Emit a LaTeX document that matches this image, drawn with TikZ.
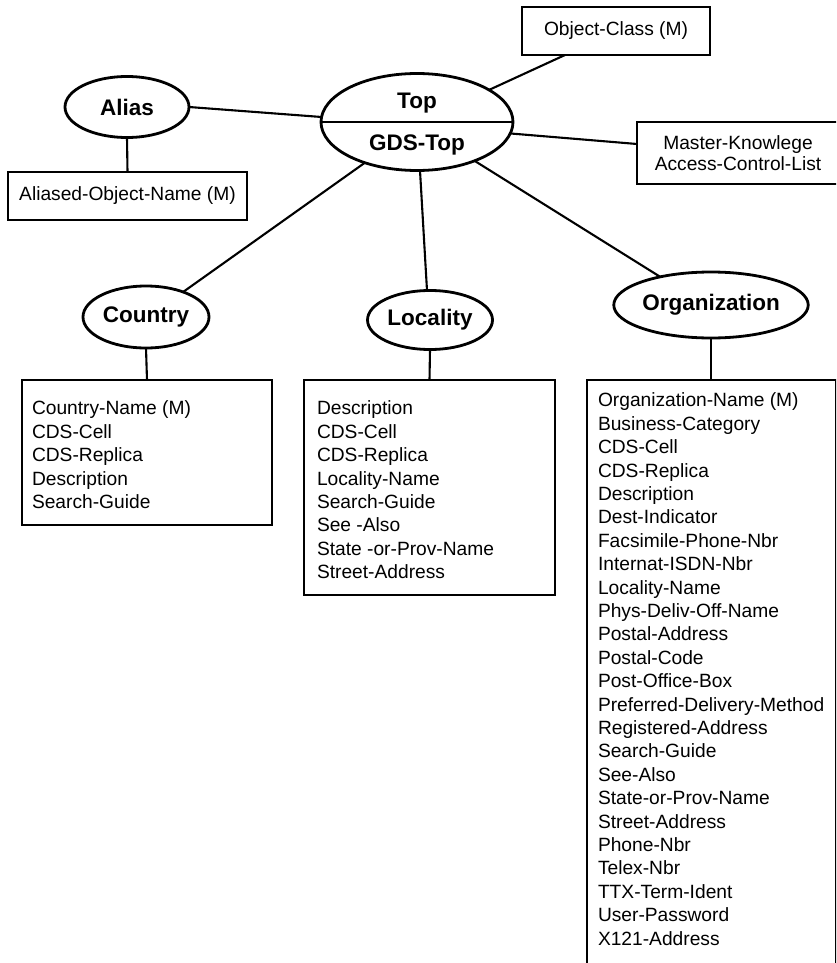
\documentclass[tikz,border=0pt]{standalone}
\usepackage{fontspec}
\setmainfont{Liberation Sans}
\usetikzlibrary{shapes.geometric}

\begin{document}
\begin{tikzpicture}[x=1pt,y=-1pt,
  every node/.style={inner sep=0pt, outer sep=0pt},
  cls/.style={ellipse, draw, line width=2.8pt,
    font=\fontsize{22.5}{26}\selectfont\bfseries},
  clslabel/.style={font=\fontsize{22.5}{26}\selectfont\bfseries},
  attrbox/.style={rectangle, draw, line width=2.8pt,
    font=\fontsize{19.2}{21}\selectfont, align=center},
  attrtext/.style={anchor=north west, align=left,
    font=\fontsize{19.2}{23.4}\selectfont},
  link/.style={line width=2.1pt},
]
\useasboundingbox (0,0) rectangle (836,963);

% --- central class Top / GDS-Top
\node[ellipse, draw, line width=2.8pt, minimum width=192pt, minimum height=97pt] (top) at (417,122) {};
\draw[line width=2.8pt] (top.west) -- (top.east);
\node[clslabel] (toplbl) at (417,103) {Top};
\node[clslabel] (gdslbl) at (417,145) {GDS-Top};

% --- attributes of Top
\node[attrbox, minimum width=188pt, minimum height=48pt] (objclass) at (616,31) {Object-Class (M)};
\begin{scope}
  \clip (0,0) rectangle (836,963);
  \node[attrbox, minimum width=202pt, minimum height=62pt] (master) at (738,153)
    {Master-Knowlege\\Access-Control-List};
  \node[attrbox, minimum width=249pt, minimum height=610pt] (orgbox) at (711.5,685) {};
\end{scope}

% --- Alias
\node[cls, minimum width=124pt, minimum height=61pt] (alias) at (127,107) {Alias};
\node[attrbox, minimum width=239pt, minimum height=48pt] (aliasbox) at (127.5,196) {Aliased-Object-Name (M)};

% --- subclasses
\node[cls, minimum width=126pt, minimum height=62pt] (country) at (146,317) {Country};
\node[cls, minimum width=125pt, minimum height=59pt] (locality) at (430,320) {Locality};
\node[cls, minimum width=164pt, minimum height=66pt] (org) at (711,305) {Organization};

\node[attrbox, minimum width=250pt, minimum height=145pt] (countrybox) at (147,452.5) {};
\node[attrbox, minimum width=251pt, minimum height=215pt] (localitybox) at (429.5,487.5) {};

% --- attribute lists
\node[attrtext] (countrytext) at (32,401) {Country-Name (M)\\CDS-Cell\\CDS-Replica\\Description\\Search-Guide};
\node[attrtext] (localitytext) at (317,401) {Description\\CDS-Cell\\CDS-Replica\\Locality-Name\\Search-Guide\\See -Also\\State -or-Prov-Name\\Street-Address};
\node[attrtext] (orgtext) at (598,393) {Organization-Name (M)\\Business-Category\\CDS-Cell\\CDS-Replica\\Description\\Dest-Indicator\\Facsimile-Phone-Nbr\\Internat-ISDN-Nbr\\Locality-Name\\Phys-Deliv-Off-Name\\Postal-Address\\Postal-Code\\Post-Office-Box\\Preferred-Delivery-Method\\Registered-Address\\Search-Guide\\See-Also\\State-or-Prov-Name\\Street-Address\\Phone-Nbr\\Telex-Nbr\\TTX-Term-Ident\\User-Password\\X121-Address};

% --- connectors
\draw[link] (top.24) -- ([xshift=-51pt]objclass.south);
\draw[link] (top.-7) -- ([yshift=9pt]master.west);
\draw[link] (alias.east) -- (top.177);
\draw[link] (alias.south) -- (aliasbox.north);
\draw[link] (top.218) -- (country.34);
\draw[link] ([xshift=3pt]top.south) -- ([xshift=-3pt]locality.north);
\draw[link] (top.-34) -- (org.151);
\draw[link] (country.south) -- (countrybox.north);
\draw[link] (locality.south) -- (localitybox.north);
\draw[link] (org.south) -- (org.south |- orgbox.north);
\end{tikzpicture}
\end{document}
